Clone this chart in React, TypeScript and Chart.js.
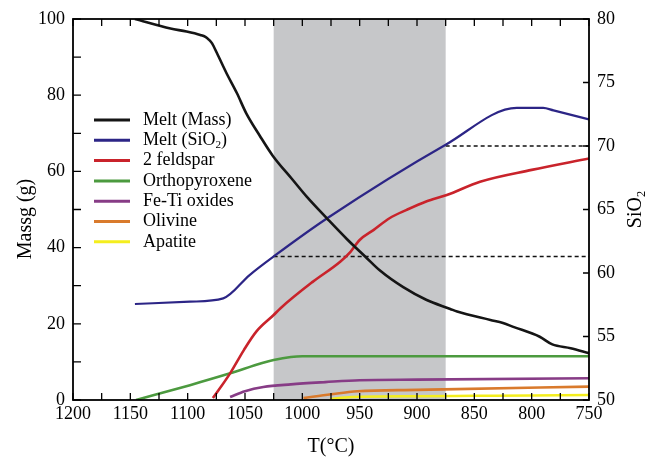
import React, { useEffect, useRef } from "react";
import { Chart, registerables } from "chart.js";

Chart.register(...registerables);

const FONT = "'Liberation Serif', 'Times New Roman', serif";

// ---- data (temperature in °C, mass in g, SiO2 in wt%) ----
const meltMassT = [1146, 1115, 1101, 1089, 1084.5, 1081.6, 1078.7, 1074.4, 1066, 1057, 1049, 1037, 1026, 1009, 996, 978, 961, 945, 932, 912, 892, 871, 865, 836, 825, 816, 793, 782, 766, 750];
const meltMass = [100, 97.5, 96.7, 95.8, 95.3, 94.6, 93.6, 91, 85.7, 80.5, 75.3, 69.3, 64.2, 58.0, 53.3, 47.5, 42.2, 37.6, 33.9, 29.6, 26.3, 23.9, 23.2, 21, 20.2, 19.2, 16.6, 14.6, 13.6, 12.3];

const meltSiO2T = [1146, 1098, 1069, 1046, 1025, 978, 875, 813, 790, 781, 750];
const meltSiO2 = [57.56, 57.74, 58.0, 59.84, 61.3, 64.33, 70.1, 73.0, 73.0, 72.8, 72.1];

const feldsparT = [1078, 1063, 1051, 1040, 1025, 1019, 991, 967, 958, 950, 938, 924, 909, 892, 874, 845, 800, 750];
const feldspar = [0.5, 7, 13.1, 18, 22.3, 24.1, 31.0, 36.3, 38.9, 42, 44.6, 47.7, 49.9, 52.1, 53.8, 57.3, 60.4, 63.4];

const opxT = [1145, 1098, 1063, 1035, 1025, 1010, 1000, 750];
const opx = [0, 3.9, 7.0, 9.7, 10.5, 11.3, 11.5, 11.5];

const fetiT = [1063, 1050, 1034, 1010, 980, 950, 900, 750];
const feti = [0.8, 2.3, 3.4, 4.1, 4.7, 5.2, 5.35, 5.7];

const olivineT = [999, 975, 952, 900, 877, 750];
const olivine = [0.5, 1.5, 2.3, 2.65, 2.8, 3.5];

const apatiteT = [976, 957, 900, 850, 800, 750];
const apatite = [0.2, 0.8, 1.0, 1.1, 1.2, 1.3];

// reference lines (SiO2 axis) and shaded interval
const dashLowT = [1025, 750];
const dashLow = [61.3, 61.3];
const dashHighT = [875, 750];
const dashHigh = [70, 70];
const shadedT = [1025, 875];

const seriesLabels = ["Melt (Mass)", "Melt (SiO₂)", "2 feldspar", "Orthopyroxene", "Fe-Ti oxides", "Olivine", "Apatite"];
const seriesColors = ["#151515", "#2c2586", "#c9232b", "#4c9a3f", "#873c86", "#d97a2c", "#f4ee1e"];

// tick values
const xTickMarks = [1200, 1175, 1150, 1125, 1100, 1075, 1050, 1025, 1000, 975, 950, 925, 900, 875, 850, 825, 800, 775, 750];
const yTickMarks = [0, 10, 20, 30, 40, 50, 60, 70, 80, 90, 100];
const y2TickMarks = [50, 55, 60, 65, 70, 75, 80];

const zip = (t: number[], v: number[]) => t.map((x, i) => ({ x, y: v[i] }));

function drawRich(ctx: CanvasRenderingContext2D, text: string, x: number, y: number, size: number, align: "left" | "center") {
  const parts = text.split("₂");
  const sub = size * 0.62;
  ctx.textBaseline = "middle";
  ctx.textAlign = "left";
  let total = 0;
  parts.forEach((p, i) => {
    ctx.font = `${size}px ${FONT}`;
    total += ctx.measureText(p).width;
    if (i < parts.length - 1) {
      ctx.font = `${sub}px ${FONT}`;
      total += ctx.measureText("2").width;
    }
  });
  let cx = align === "center" ? x - total / 2 : x;
  parts.forEach((p, i) => {
    ctx.font = `${size}px ${FONT}`;
    ctx.fillText(p, cx, y);
    cx += ctx.measureText(p).width;
    if (i < parts.length - 1) {
      ctx.font = `${sub}px ${FONT}`;
      ctx.fillText("2", cx, y + size * 0.28);
      cx += ctx.measureText("2").width;
    }
  });
}

const decor = {
  id: "decor",
  beforeDatasetsDraw(chart: any) {
    const { ctx, chartArea, scales } = chart;
    const x1 = scales.x.getPixelForValue(shadedT[0]);
    const x2 = scales.x.getPixelForValue(shadedT[1]);
    ctx.save();
    ctx.fillStyle = "#c6c7c9";
    ctx.fillRect(x1, chartArea.top, x2 - x1, chartArea.bottom - chartArea.top);
    ctx.restore();
  },
  afterDraw(chart: any) {
    const { ctx, chartArea: a, scales } = chart;
    ctx.save();
    ctx.strokeStyle = "#000";
    ctx.lineWidth = 1.8;
    ctx.strokeRect(a.left, a.top, a.right - a.left, a.bottom - a.top);
    ctx.lineWidth = 1.3;
    ctx.beginPath();
    xTickMarks.forEach((v) => {
      const px = scales.x.getPixelForValue(v);
      ctx.moveTo(px, a.bottom);
      ctx.lineTo(px, a.bottom - 7);
      ctx.moveTo(px, a.top);
      ctx.lineTo(px, a.top + 7);
    });
    yTickMarks.forEach((v) => {
      const py = scales.y.getPixelForValue(v);
      ctx.moveTo(a.left, py);
      ctx.lineTo(a.left + 8, py);
    });
    y2TickMarks.forEach((v) => {
      const py = scales.y2.getPixelForValue(v);
      ctx.moveTo(a.right, py);
      ctx.lineTo(a.right - 6, py);
    });
    ctx.stroke();

    // axis titles
    ctx.fillStyle = "#000";
    ctx.font = `20px ${FONT}`;
    ctx.textAlign = "center";
    ctx.textBaseline = "middle";
    ctx.fillText("T(°C)", (a.left + a.right) / 2, 447);
    ctx.save();
    ctx.translate(26, 219);
    ctx.rotate(-Math.PI / 2);
    ctx.fillText("Massg (g)", 0, 0);
    ctx.restore();
    ctx.save();
    ctx.translate(636, (a.top + a.bottom) / 2);
    ctx.rotate(-Math.PI / 2);
    drawRich(ctx, "SiO₂", 0, 0, 20, "center");
    ctx.restore();

    // legend
    const lx = a.left + 21;
    const ly = a.top + 101;
    seriesLabels.forEach((lab, i) => {
      const y = ly + i * 20.3;
      ctx.strokeStyle = seriesColors[i];
      ctx.lineWidth = 3;
      ctx.beginPath();
      ctx.moveTo(lx, y);
      ctx.lineTo(lx + 36, y);
      ctx.stroke();
      ctx.fillStyle = "#000";
      drawRich(ctx, lab, lx + 49, y, 18, "left");
    });
    ctx.restore();
  },
};

export default function App() {
  const ref = useRef<HTMLCanvasElement>(null);
  useEffect(() => {
    if (!ref.current) return;
    const series = [
      { d: zip(meltMassT, meltMass), axis: "y", w: 2.6 },
      { d: zip(meltSiO2T, meltSiO2), axis: "y2", w: 2.2 },
      { d: zip(feldsparT, feldspar), axis: "y", w: 2.6 },
      { d: zip(opxT, opx), axis: "y", w: 2.6 },
      { d: zip(fetiT, feti), axis: "y", w: 2.6 },
      { d: zip(olivineT, olivine), axis: "y", w: 2.6 },
      { d: zip(apatiteT, apatite), axis: "y", w: 2.6 },
    ];
    const datasets: any[] = series.map((s, i) => ({
      label: seriesLabels[i],
      data: s.d,
      yAxisID: s.axis,
      borderColor: seriesColors[i],
      borderWidth: s.w,
      pointRadius: 0,
      fill: false,
      cubicInterpolationMode: "monotone",
    }));
    [zip(dashLowT, dashLow), zip(dashHighT, dashHigh)].forEach((d) =>
      datasets.push({
        label: "",
        data: d,
        yAxisID: "y2",
        borderColor: "#111",
        borderWidth: 1.4,
        borderDash: [4, 3],
        pointRadius: 0,
        fill: false,
      })
    );
    const tickFont = { family: FONT, size: 18 };
    const plain = (v: any) => String(v);
    const chart = new Chart(ref.current, {
      type: "line",
      data: { datasets },
      options: {
        animation: false,
        responsive: false,
        events: [],
        layout: { padding: { top: 19, left: 0, right: 0, bottom: 0 } },
        plugins: { legend: { display: false }, tooltip: { enabled: false } },
        scales: {
          x: {
            type: "linear",
            reverse: true,
            min: 750,
            max: 1200,
            grid: { display: false, drawTicks: false },
            border: { display: false },
            ticks: { stepSize: 50, color: "#000", font: tickFont, padding: 3, maxRotation: 0, autoSkip: false, callback: plain },
            afterFit: (s: any) => { s.height = 57; },
          },
          y: {
            position: "left",
            min: 0,
            max: 100,
            grid: { display: false, drawTicks: false },
            border: { display: false },
            ticks: { stepSize: 20, color: "#000", font: tickFont, padding: 8, callback: plain },
            afterFit: (s: any) => { s.width = 73; },
          },
          y2: {
            position: "right",
            min: 50,
            max: 80,
            grid: { display: false, drawTicks: false },
            border: { display: false },
            ticks: { stepSize: 5, color: "#000", font: tickFont, padding: 8, callback: plain },
            afterFit: (s: any) => { s.width = 72; },
          },
        },
      } as any,
      plugins: [decor],
    });
    return () => chart.destroy();
  }, []);
  return (
    <div style={{ position: "fixed", left: 0, top: 0, width: 661, height: 457, background: "#fff" }}>
      <canvas ref={ref} width={661} height={457} />
    </div>
  );
}
